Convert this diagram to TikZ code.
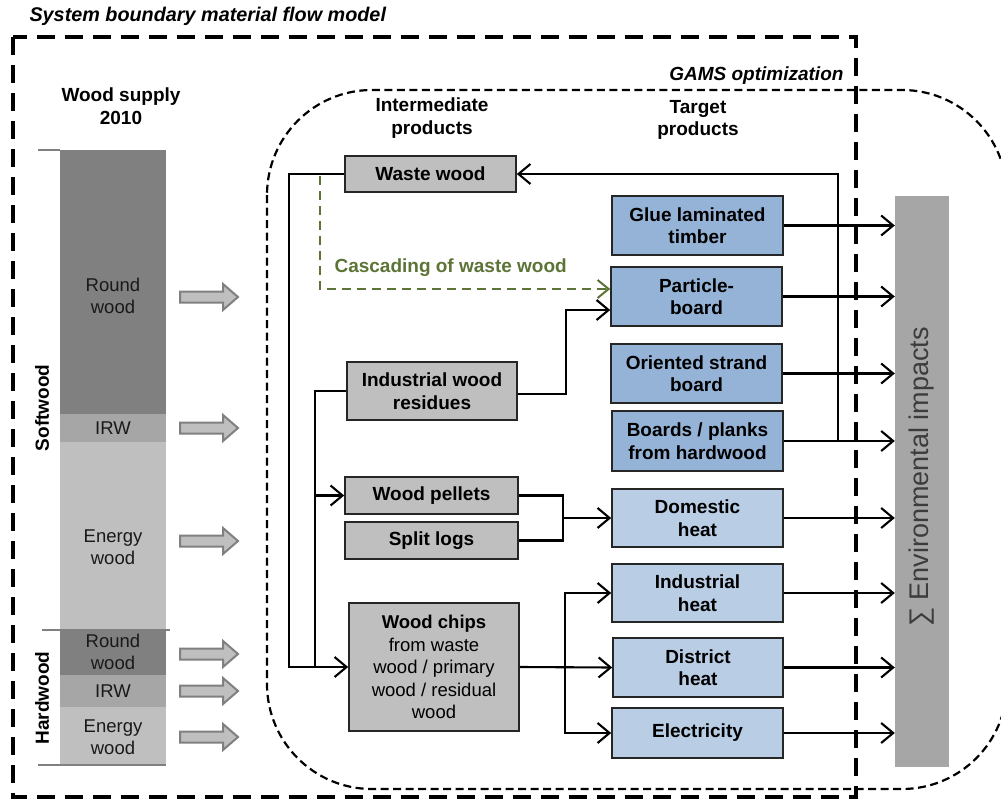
\documentclass[tikz,border=0pt]{standalone}
\usepackage{fontspec}
\setmainfont{Liberation Sans}
\usetikzlibrary{arrows.meta,calc}

\definecolor{boxgray}{HTML}{BFBFBF}
\definecolor{bluedark}{HTML}{95B3D7}
\definecolor{bluelight}{HTML}{B9CDE5}
\definecolor{impactgray}{HTML}{A6A6A6}
\definecolor{rwgray}{HTML}{808080}
\definecolor{irwgray}{HTML}{A6A6A6}
\definecolor{ewgray}{HTML}{BFBFBF}
\definecolor{cascgreen}{HTML}{5C7436}
\definecolor{impacttext}{HTML}{3C3C3C}

\newcommand\bxfont{\fontsize{19}{22.5}\selectfont\bfseries}
\newcommand\rgfont{\fontsize{18.5}{22.5}\selectfont}
\newcommand\hdfont{\fontsize{19}{22.5}\selectfont\bfseries}

\tikzset{
  box/.style={draw=black!85, line width=1.6pt, align=center, font=\bxfont, inner sep=0pt},
  graybox/.style={box, fill=boxgray},
  bluebox/.style={box, fill=bluedark},
  lightbox/.style={box, fill=bluelight},
  conn/.style={line width=2.1pt, black},
  flow/.style={conn, -{Straight Barb[length=12pt,width=20pt]}},
  casc/.style={line width=2pt, cascgreen, dash pattern=on 9pt off 6pt,
               -{Straight Barb[length=11pt,width=18pt]}},
  seglbl/.style={align=center, font=\rgfont, text=black!90},
  heading/.style={align=center, font=\hdfont},
  fatarrow/.pic={
    \filldraw[fill=boxgray, draw=rwgray, line width=2pt, line join=miter]
      (0,-5.5) -- (43,-5.5) -- (43,-13) -- (58,0) -- (43,13) -- (43,5.5) -- (0,5.5) -- cycle;
  }
}

\begin{document}
\begin{tikzpicture}[x=1pt,y=-1pt]
\useasboundingbox (0,0) rectangle (1001,800);
\clip (0,0) rectangle (1001,800);

% system boundary of the material flow model
\draw[line width=3.6pt, dash pattern=on 18pt off 10pt] (13,37) rectangle (856,797);
\node[anchor=west, font=\fontsize{19.8}{22}\selectfont\bfseries\itshape] (sysb) at (26,16)
  {System boundary material flow model};

% optimization boundary
\draw[line width=2.2pt, dash pattern=on 8pt off 4.5pt, rounded corners=105pt]
  (267,90) rectangle (1007,789);
\node[anchor=east, font=\fontsize{19}{22}\selectfont\bfseries\itshape] (gams) at (847,76)
  {GAMS optimization};

% wood supply bar
\node[heading] (supply) at (121,106) {Wood supply\\2010};
\fill[rwgray]  (60,150) rectangle (166,414);
\fill[irwgray] (60,414) rectangle (166,442);
\fill[ewgray]  (60,442) rectangle (166,630);
\fill[rwgray]  (60,630) rectangle (166,675);
\fill[irwgray] (60,675) rectangle (166,707);
\fill[ewgray]  (60,707) rectangle (166,765);
\draw[rwgray, line width=2pt] (38,150) -- (60,150);
\draw[rwgray, line width=2pt] (42,630) -- (170,630);
\draw[rwgray, line width=2pt] (38,765) -- (166,765);

\node[seglbl] (srw) at (113,296) {Round\\wood};
\node[seglbl] (sirw) at (113,428) {IRW};
\node[seglbl] (sew) at (113,547) {Energy\\wood};
\node[seglbl] (hrw) at (113,652) {Round\\wood};
\node[seglbl] (hirw) at (113,691) {IRW};
\node[seglbl] (hew) at (113,737) {Energy\\wood};

\node[heading, rotate=90] (soft) at (42,408) {Softwood};
\node[heading, rotate=90] (hard) at (42,698) {Hardwood};

% supply arrows
\foreach \yy in {297,428,541,654,691,737}
  \pic at (180,\yy) {fatarrow};

% column headings
\node[heading] (inter) at (432,118) {Intermediate\\products};
\node[heading] (target) at (698,120) {Target\\products};

% intermediate products
\node[graybox, minimum width=171pt, minimum height=36pt] (ww) at (430.5,174) {Waste wood};
\node[graybox, minimum width=170pt, minimum height=58pt] (iwr) at (432,391) {Industrial wood\\residues};
\node[graybox, minimum width=173pt, minimum height=37pt] (wp) at (431.5,495.5) {Wood pellets};
\node[graybox, minimum width=173pt, minimum height=37pt] (sl) at (431.5,540.5) {Split logs};
\node[graybox, minimum width=170pt, minimum height=128pt, font=\rgfont] (wc) at (434,667)
  {\textbf{Wood chips}\\from waste\\wood / primary\\wood / residual\\wood};

% target products
\node[bluebox, minimum width=171pt, minimum height=59pt] (glt) at (697.5,225.5) {Glue laminated\\timber};
\node[bluebox, minimum width=171pt, minimum height=59pt] (pb) at (696.5,296.5) {Particle-\\board};
\node[bluebox, minimum width=171pt, minimum height=59pt] (osb) at (696.5,373.5) {Oriented strand\\board};
\node[bluebox, minimum width=171pt, minimum height=60pt] (bph) at (697.5,441) {Boards / planks\\from hardwood};
\node[lightbox, minimum width=171pt, minimum height=58pt] (dh) at (697.5,518) {Domestic\\heat};
\node[lightbox, minimum width=171pt, minimum height=58pt] (ih) at (697.5,593) {Industrial\\heat};
\node[lightbox, minimum width=170pt, minimum height=59pt] (dist) at (698,667.5) {District\\heat};
\node[lightbox, minimum width=171pt, minimum height=50pt] (el) at (697.5,733) {Electricity};

% environmental impacts
\node[fill=impactgray, minimum width=54pt, minimum height=571pt, inner sep=0pt] (env) at (922,481.5) {};
\node[rotate=90, font=\fontsize{27}{30}\selectfont, text=impacttext] (envlbl) at (922,477)
  {∑ Environmental impacts};

% target products to impacts
\foreach \n in {glt,pb,osb,bph,dh,ih,dist,el}
  \draw[flow] (\n.east) -- (\n.east -| env.west);

% waste wood return and distribution
\coordinate (retjoin) at (838,441);
\draw[flow] (retjoin) |- (ww.east);
\coordinate (lbus) at (289,400);
\draw[flow] (ww.west) -| (lbus) |- (wc.west);
\coordinate (mbus) at (315,667);
\draw[conn] (iwr.west) -| (mbus);
\draw[flow] (mbus |- wp.west) -- (wp.west);

% residues to particle board
\coordinate (ipj) at (566,310);
\draw[flow] ([yshift=-3pt]iwr.east) -| (ipj) -- ([yshift=-13.5pt]pb.west);

% cascading of waste wood
\coordinate (cas0) at (320,176);
\draw[casc] (cas0) |- ([yshift=7.5pt]pb.west);
\node[font=\fontsize{19}{22}\selectfont\bfseries, text=cascgreen, anchor=west] (casclbl) at (331,268)
  {Cascading of waste wood};

% pellets and logs to domestic heat
\coordinate (hj) at (563,518);
\draw[conn] (wp.east) -| (hj) |- (sl.east);
\draw[flow] (hj) -- (dh.west);

% wood chips to heat and electricity
\coordinate (cj) at (565,667);
\draw[flow] (wc.east) -- (dist.west);
\draw[flow] (cj) |- (ih.west);
\draw[flow] (cj) |- (el.west);

\end{tikzpicture}
\end{document}
